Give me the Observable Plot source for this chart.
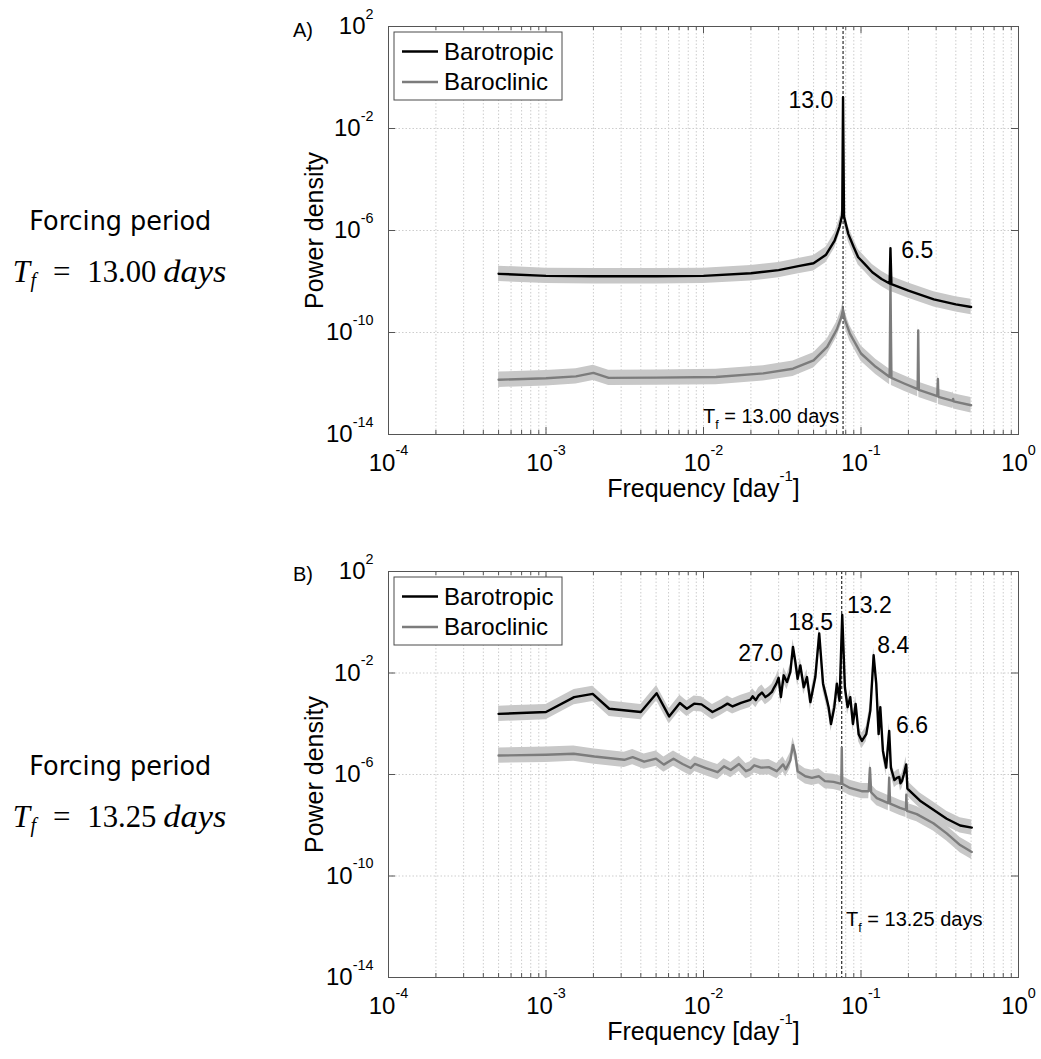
<!DOCTYPE html>
<html>
<head>
<meta charset="utf-8">
<script src="https://cdn.jsdelivr.net/npm/d3@7"></script>
<script src="https://cdn.jsdelivr.net/npm/@observablehq/plot@0.6"></script>
<style>
  html, body { margin: 0; padding: 0; background: #fff; }
  #root { position: relative; width: 1041px; height: 1059px; overflow: hidden; background: #fff; }
  #root svg { position: absolute; }
</style>
</head>
<body>
<div id="root"></div>
<script>
// ---------------- DATA ----------------
const xTickValues = [1e-4, 1e-3, 1e-2, 1e-1, 1];
const yTickValues = [1e2, 1e-2, 1e-6, 1e-10, 1e-14];

const forcingPeriodA = 13.00;
const forcingPeriodB = 13.25;

// confidence band factors (read from the shaded envelope, about ±0.3 decades)
const ciLower = 0.5;
const ciUpper = 2.0;

// Panel A – barotropic
const freqA_baro = [5e-4, 1e-3, 2e-3, 5e-3, 1e-2, 2e-2, 3e-2, 4e-2, 5e-2, 6e-2, 6.8e-2, 7.3e-2, 7.6e-2, 7.69e-2, 7.8e-2, 8.3e-2, 9.0e-2, 0.096, 0.105, 0.118, 0.135, 0.152, 0.1538, 0.156, 0.2, 0.29, 0.4, 0.5];
const powA_baro  = [2.0e-8, 1.66e-8, 1.6e-8, 1.6e-8, 1.66e-8, 2.1e-8, 2.8e-8, 4.0e-8, 5.2e-8, 1.12e-7, 4.0e-7, 1.4e-6, 4.0e-6, 0.17, 3.5e-6, 7.4e-7, 2.2e-7, 8.9e-8, 5.0e-8, 2.3e-8, 1.26e-8, 8.3e-9, 2.0e-7, 7.9e-9, 4.4e-9, 2.0e-9, 1.26e-9, 1.0e-9];

// Panel A – baroclinic
const freqA_clin = [5e-4, 1e-3, 1.55e-3, 2e-3, 2.5e-3, 5e-3, 1.2e-2, 2.4e-2, 3.7e-2, 5e-2, 6.1e-2, 7.0e-2, 7.5e-2, 7.69e-2, 7.9e-2, 8.5e-2, 0.1, 0.124, 0.152, 0.1538, 0.156, 0.188, 0.229, 0.2308, 0.233, 0.305, 0.3077, 0.31, 0.383, 0.3846, 0.387, 0.5];
const powA_clin  = [1.4e-12, 1.6e-12, 1.9e-12, 2.6e-12, 1.66e-12, 1.7e-12, 1.8e-12, 2.5e-12, 3.8e-12, 8.1e-12, 2.75e-11, 1.26e-10, 4.0e-10, 7.9e-10, 3.2e-10, 9.1e-11, 1.5e-11, 4.5e-12, 1.8e-12, 1.0e-8, 1.66e-12, 1.0e-12, 6.0e-13, 1.2e-10, 5.6e-13, 3.2e-13, 1.5e-12, 3.0e-13, 2.1e-13, 2.5e-13, 2.0e-13, 1.4e-13];

// Panel B – barotropic
const freqB_baro = [5e-4, 1e-3, 1.51e-3, 1.98e-3, 2.52e-3, 4.0e-3, 5.04e-3, 6.05e-3, 7.08e-3, 7.84e-3, 8.72e-3, 9.71e-3, 1.14e-2, 1.29e-2, 1.42e-2, 1.53e-2, 1.73e-2, 1.98e-2, 2.05e-2, 2.15e-2, 2.24e-2, 2.35e-2, 2.47e-2, 2.6e-2, 2.72e-2, 2.8e-2, 2.9e-2, 3.0e-2, 3.1e-2, 3.23e-2, 3.39e-2, 3.56e-2, 3.7e-2, 3.83e-2, 3.96e-2, 4.12e-2, 4.33e-2, 4.54e-2, 4.77e-2, 5.13e-2, 5.43e-2, 5.74e-2, 6.02e-2, 6.23e-2, 6.45e-2, 6.77e-2, 7.03e-2, 7.31e-2, 7.6e-2, 7.9e-2, 8.22e-2, 8.55e-2, 8.89e-2, 9.25e-2, 9.66e-2, 0.1014, 0.108, 0.1146, 0.1203, 0.125, 0.1294, 0.1326, 0.1378, 0.1445, 0.151, 0.1548, 0.158, 0.163, 0.169, 0.175, 0.178, 0.182, 0.187, 0.1937, 0.197, 0.216, 0.237, 0.288, 0.35, 0.426, 0.505];
const powB_baro  = [2.45e-4, 2.9e-4, 1.12e-3, 1.5e-3, 3.9e-4, 2.9e-4, 1.6e-3, 1.95e-4, 6.6e-4, 3.9e-4, 6.2e-4, 5.8e-4, 2.9e-4, 4.3e-4, 6.2e-4, 4.8e-4, 6.6e-4, 8.7e-4, 1.2e-3, 8.5e-4, 1.3e-3, 1.7e-3, 1.12e-3, 1.4e-3, 1.8e-3, 2.6e-3, 3.8e-3, 6.5e-3, 1.12e-3, 8.1e-3, 4.4e-3, 1.1e-2, 0.107, 2.75e-2, 5.9e-3, 2.0e-2, 2.75e-3, 6.9e-3, 7.1e-4, 6.9e-3, 0.36, 3.8e-3, 1.12e-3, 4.5e-4, 9.8e-5, 4.5e-4, 3.8e-3, 8.1e-4, 1.95, 2.75e-3, 4.5e-4, 1.12e-3, 9.8e-5, 6.0e-4, 3.9e-5, 2.1e-5, 3.9e-5, 3.3e-4, 5.0e-2, 3.8e-3, 3.9e-5, 4.5e-4, 8.5e-6, 1.86e-6, 5.2e-5, 1.86e-6, 1.2e-6, 6.0e-7, 7.4e-7, 8.0e-7, 4.5e-7, 5.5e-7, 1.0e-6, 2.5e-6, 2.8e-7, 1.6e-7, 9.3e-8, 4.1e-8, 1.8e-8, 9.8e-9, 8.1e-9];

// Panel B – baroclinic
const freqB_clin = [5e-4, 1e-3, 1.5e-3, 2.03e-3, 3.14e-3, 3.55e-3, 4.2e-3, 5.0e-3, 5.6e-3, 6.45e-3, 7.36e-3, 8.3e-3, 8.8e-3, 1.035e-2, 1.23e-2, 1.35e-2, 1.49e-2, 1.68e-2, 1.86e-2, 1.98e-2, 2.1e-2, 2.32e-2, 2.6e-2, 2.92e-2, 3.2e-2, 3.33e-2, 3.56e-2, 3.7e-2, 3.83e-2, 3.96e-2, 4.43e-2, 4.88e-2, 5.4e-2, 5.9e-2, 6.7e-2, 7.5e-2, 7.55e-2, 7.6e-2, 8.5e-2, 0.101, 0.112, 0.114, 0.116, 0.126, 0.149, 0.151, 0.153, 0.177, 0.193, 0.194, 0.196, 0.226, 0.288, 0.35, 0.426, 0.505];
const powB_clin  = [5.6e-6, 6.0e-6, 6.6e-6, 5.1e-6, 3.8e-6, 4.8e-6, 3.2e-6, 4.2e-6, 2.45e-6, 4.2e-6, 2.6e-6, 1.8e-6, 2.6e-6, 1.8e-6, 1.23e-6, 2.1e-6, 1.5e-6, 2.6e-6, 1.35e-6, 1.6e-6, 2.3e-6, 1.86e-6, 1.95e-6, 1.35e-6, 2.5e-6, 1.6e-6, 3.6e-6, 1.45e-5, 6.3e-6, 1.35e-6, 8.5e-7, 7.4e-7, 8.5e-7, 5.5e-7, 5.1e-7, 4.3e-7, 1.15e-5, 4.3e-7, 2.95e-7, 2.2e-7, 2.2e-7, 1.8e-6, 2.0e-7, 1.17e-7, 7.4e-8, 7.4e-7, 7.1e-8, 4.8e-8, 4.0e-8, 1.6e-7, 3.7e-8, 2.75e-8, 1.2e-8, 4.8e-9, 1.66e-9, 8.9e-10];

// Peak / forcing annotations
const annotA_text = ["13.0", "6.5", "T_{f} = 13.00 days"];
const annotA_freq = [0.0667, 0.18, 0.0728];
const annotA_pow  = [0.126, 1.66e-7, 5.2e-14];

const annotB_text = ["27.0", "18.5", "13.2", "8.4", "6.6", "T_{f} = 13.25 days"];
const annotB_freq = [0.01663, 0.0345, 0.0814, 0.1268, 0.167, 0.0804];
const annotB_pow  = [0.06, 0.95, 4.5, 0.123, 8.7e-5, 2.0e-12];

const seriesNames = ["Barotropic", "Baroclinic"];

// ---------------- HELPERS ----------------
const FONT = "'Liberation Sans', Arial, Helvetica, sans-serif";
const BLACK = "#000000", GREY = "#7c7c7c", BAND = "#c8c8c8", FRAME = "#555555", GRID = "#cdcdcd";

const xMinor = d3.range(-4, 0).flatMap(e => d3.range(2, 10).map(m => m * Math.pow(10, e)));
const xGrid = xTickValues.concat(xMinor);

function table(fs, ps) { return fs.map((f, i) => ({f, p: ps[i]})); }
function annots(ts, fs, ps) { return ts.map((t, i) => ({t, f: fs[i], p: ps[i], tf: t.startsWith("T_")})); }
const expFmt = d => `10^{${Math.round(Math.log10(d))}}`;

function richify(root) {
  d3.select(root).selectAll("text").each(function () {
    const s = this.textContent;
    if (!/[\^_]\{/.test(s)) return;
    const fs = parseFloat(getComputedStyle(this).fontSize) || 16;
    const parts = [];
    const re = /([\^_])\{([^}]*)\}/g;
    let last = 0, m;
    while ((m = re.exec(s))) {
      if (m.index > last) parts.push({t: s.slice(last, m.index), k: ""});
      parts.push({t: m[2], k: m[1]});
      last = re.lastIndex;
    }
    if (last < s.length) parts.push({t: s.slice(last), k: ""});
    const el = d3.select(this);
    el.selectAll("*").remove();
    this.textContent = "";
    let cur = 0;
    for (const p of parts) {
      const target = p.k === "^" ? -0.64 * fs : p.k === "_" ? 0.3 * fs : 0;
      const ts = el.append("tspan").text(p.t);
      if (target !== cur) ts.attr("dy", target - cur);
      if (p.k) ts.attr("font-size", (p.k === "^" ? 0.6 : 0.62) * fs);
      cur = target;
    }
  });
}

function makePanel(cfg) {
  const W = 760, H = cfg.height;
  const mt = 26, ml = 108, mr = 22, mb = H - mt - cfg.frameH;
  const fw = W - ml - mr, fh = cfg.frameH;
  const baro = table(cfg.fBaro, cfg.pBaro);
  const clin = table(cfg.fClin, cfg.pClin);
  const ann = annots(cfg.aText, cfg.aFreq, cfg.aPow);
  const ends = new Set(cfg.endAnchored);
  const svg = Plot.plot({
    width: W, height: H,
    marginTop: mt, marginLeft: ml, marginRight: mr, marginBottom: mb,
    x: {type: "log", domain: [1e-4, 1]},
    y: {type: "log", domain: [1e-14, 1e2]},
    style: {fontFamily: FONT, fontSize: "24px", color: "#000", background: "transparent", overflow: "visible"},
    marks: [
      // grid
      Plot.ruleX(xGrid, {x: d => d, stroke: GRID, strokeWidth: 1, strokeDasharray: "1.5,2"}),
      Plot.ruleY(yTickValues, {y: d => d, stroke: GRID, strokeWidth: 1, strokeDasharray: "1.5,2"}),
      // confidence bands
      Plot.areaY(baro, {x: "f", y1: d => d.p * ciLower, y2: d => d.p * ciUpper, fill: BAND, curve: "linear"}),
      Plot.areaY(clin, {x: "f", y1: d => d.p * ciLower, y2: d => d.p * ciUpper, fill: BAND, curve: "linear"}),
      // forcing frequency
      Plot.ruleX([1 / cfg.period], {x: d => d, stroke: "#000", strokeWidth: 1, strokeDasharray: "3,2"}),
      // spectra
      Plot.line(clin, {x: "f", y: "p", stroke: GREY, strokeWidth: 2.4, strokeLinejoin: "round"}),
      Plot.line(baro, {x: "f", y: "p", stroke: BLACK, strokeWidth: 2.4, strokeLinejoin: "round"}),
      // frame and inward ticks
      Plot.frame({stroke: FRAME, strokeWidth: 1}),
      Plot.tickX(xTickValues, {x: d => d, insetTop: fh - 7, stroke: FRAME}),
      Plot.tickX(xTickValues, {x: d => d, insetBottom: fh - 7, stroke: FRAME}),
      Plot.tickX(xMinor, {x: d => d, insetTop: fh - 4, stroke: FRAME}),
      Plot.tickX(xMinor, {x: d => d, insetBottom: fh - 4, stroke: FRAME}),
      Plot.tickY(yTickValues, {y: d => d, insetRight: fw - 7, stroke: FRAME}),
      Plot.tickY(yTickValues, {y: d => d, insetLeft: fw - 7, stroke: FRAME}),
      // axes (labels only)
      Plot.axisX({ticks: xTickValues, anchor: "bottom", tickSize: 0, tickPadding: 19, tickFormat: expFmt, fontSize: 24, label: null}),
      Plot.axisY({ticks: yTickValues, anchor: "left", tickSize: 0, tickPadding: 15, tickFormat: expFmt, fontSize: 24, label: null}),
      Plot.text(["Power density"], {text: d => d, frameAnchor: "left", textAnchor: "middle", lineAnchor: "middle", rotate: -90, dx: -74, fontSize: 25}),
      Plot.text(["Frequency [day^{-1}]"], {text: d => d, frameAnchor: "bottom", textAnchor: "middle", lineAnchor: "middle", dy: 54, fontSize: 25}),
      // annotations
      Plot.text(ann, {filter: d => !d.tf && ends.has(d.t), x: "f", y: "p", text: "t", textAnchor: "end", fontSize: 23}),
      Plot.text(ann, {filter: d => !d.tf && !ends.has(d.t), x: "f", y: "p", text: "t", textAnchor: "start", fontSize: 23}),
      Plot.text(ann, {filter: d => d.tf && ends.has(d.t), x: "f", y: "p", text: "t", textAnchor: "end", fontSize: 20}),
      Plot.text(ann, {filter: d => d.tf && !ends.has(d.t), x: "f", y: "p", text: "t", textAnchor: "start", fontSize: 20})
    ]
  });

  // legend and panel letter
  const s = d3.select(svg);
  const lg = s.append("g").attr("font-family", FONT).attr("font-size", 24).attr("text-anchor", "start");
  lg.append("rect").attr("x", ml + 6).attr("y", mt + 6).attr("width", 168).attr("height", 68)
    .attr("fill", "#fff").attr("stroke", "#4a4a4a").attr("stroke-width", 1);
  [[BLACK, mt + 25.5], [GREY, mt + 56]].forEach(([c, y], i) => {
    lg.append("line").attr("x1", ml + 14).attr("x2", ml + 50).attr("y1", y).attr("y2", y)
      .attr("stroke", c).attr("stroke-width", 2.4);
    lg.append("text").attr("x", ml + 56).attr("y", y).attr("dy", "0.35em").attr("fill", "#000")
      .attr("text-anchor", "start").text(seriesNames[i]);
  });
  s.append("text").attr("x", 13).attr("y", cfg.letterBase).attr("font-family", FONT).attr("font-size", 20)
    .attr("text-anchor", "start").attr("fill", "#000").text(cfg.letter);
  return svg;
}

// ---------------- RENDER ----------------
const root = document.getElementById("root");

const svgA = makePanel({
  height: 520, frameH: 408, period: forcingPeriodA,
  fBaro: freqA_baro, pBaro: powA_baro, fClin: freqA_clin, pClin: powA_clin,
  aText: annotA_text, aFreq: annotA_freq, aPow: annotA_pow,
  endAnchored: ["13.0", "T_{f} = 13.00 days"],
  letter: "A)", letterBase: 36.5
});
svgA.style.left = "280px"; svgA.style.top = "0px";
root.appendChild(svgA);

const svgB = makePanel({
  height: 514, frameH: 406, period: forcingPeriodB,
  fBaro: freqB_baro, pBaro: powB_baro, fClin: freqB_clin, pClin: powB_clin,
  aText: annotB_text, aFreq: annotB_freq, aPow: annotB_pow,
  endAnchored: [],
  letter: "B)", letterBase: 35.5
});
svgB.style.left = "280px"; svgB.style.top = "545px";
root.appendChild(svgB);

richify(svgA);
richify(svgB);

// Left-hand descriptions
const side = d3.create("svg").attr("width", 280).attr("height", 1059)
  .style("left", "0px").style("top", "0px");
[[forcingPeriodA, 0], [forcingPeriodB, 545]].forEach(([per, off]) => {
  side.append("text").attr("x", 29.3).attr("y", 230 + off)
    .attr("font-family", "'DejaVu Sans', sans-serif").attr("font-size", 26)
    .attr("textLength", 182).attr("lengthAdjust", "spacingAndGlyphs")
    .attr("fill", "#000").text("Forcing period");
  const t = side.append("text").attr("y", 281.7 + off)
    .attr("font-family", "'Liberation Serif', 'DejaVu Serif', serif").attr("font-size", 31).attr("fill", "#000");
  t.append("tspan").attr("x", 12.7).attr("font-style", "italic").text("T");
  t.append("tspan").attr("x", 30.5).attr("dy", 5).attr("font-size", 20).attr("font-style", "italic").text("f");
  t.append("tspan").attr("x", 53).attr("dy", -5).text("=");
  t.append("tspan").attr("x", 87.3).attr("textLength", 69).attr("lengthAdjust", "spacingAndGlyphs").text(per.toFixed(2));
  t.append("tspan").attr("x", 163.3).attr("font-style", "italic").attr("textLength", 63).attr("lengthAdjust", "spacingAndGlyphs").text("days");
});
root.appendChild(side.node());
</script>
</body>
</html>
